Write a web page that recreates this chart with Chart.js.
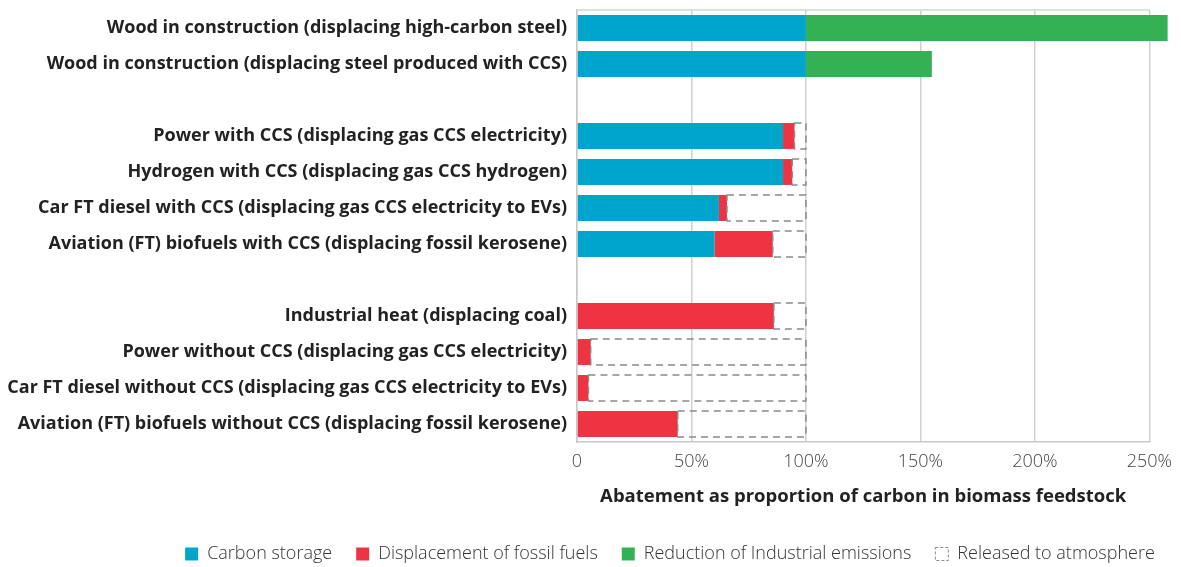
<!DOCTYPE html>
<html lang="en">
<head>
    <meta charset="UTF-8">
    <title>Abatement as proportion of carbon in biomass feedstock</title>
    <script src="https://cdn.jsdelivr.net/npm/chart.js"></script>
</head>
<style>
    body {
    margin: 0;
    background: white;
}

.wrap {
    width: 1181px;
    height: 567px;
    position: relative;
}
</style>
<body>
    <div class="wrap">
        <canvas id="abatementChart"></canvas>
    </div>
    <script>
    // Chart data
    const categories = [
        'Wood in construction (displacing high-carbon steel)',
        'Wood in construction (displacing steel produced with CCS)',
        '',
        'Power with CCS (displacing gas CCS electricity)',
        'Hydrogen with CCS (displacing gas CCS hydrogen)',
        'Car FT diesel with CCS (displacing gas CCS electricity to EVs)',
        'Aviation (FT) biofuels with CCS (displacing fossil kerosene)',
        '',
        'Industrial heat (displacing coal)',
        'Power without CCS (displacing gas CCS electricity)',
        'Car FT diesel without CCS (displacing gas CCS electricity to EVs)',
        'Aviation (FT) biofuels without CCS (displacing fossil kerosene)'
    ];
    const carbonStorage = [100, 100, null, 90, 90, 62, 60, null, 0, 0, 0, 0];
    const displacement  = [0, 0, null, 5, 4, 3.5, 25.5, null, 86, 6, 5, 44];
    const industrial    = [158, 55, null, 0, 0, 0, 0, null, 0, 0, 0, 0];
    const released      = [0, 0, null, 5, 6, 34.5, 14.5, null, 14, 94, 95, 56];
    const xTickLabels = ['0', '50%', '100%', '150%', '200%', '250%'];

    const dashColor = '#8a8a8a';

    // draws the dashed outline for the "released" segments
    const dashedBoxes = {
        id: 'dashedBoxes',
        afterDatasetsDraw(chart) {
            const meta = chart.getDatasetMeta(3);
            const ctx = chart.ctx;
            ctx.save();
            ctx.strokeStyle = dashColor;
            ctx.lineWidth = 1.5;
            ctx.setLineDash([7, 5]);
            meta.data.forEach((bar, i) => {
                if (!released[i]) return;
                const p = bar.getProps(['x', 'y', 'base', 'height'], true);
                ctx.strokeRect(p.base, p.y - p.height / 2, p.x - p.base, p.height);
            });
            ctx.restore();
        }
    };

    // top border of the plot box
    const topLine = {
        id: 'topLine',
        beforeDatasetsDraw(chart) {
            const a = chart.chartArea;
            const ctx = chart.ctx;
            ctx.save();
            ctx.strokeStyle = '#d4d4d4';
            ctx.lineWidth = 1.5;
            ctx.beginPath();
            ctx.moveTo(a.left, a.top);
            ctx.lineTo(a.right, a.top);
            ctx.stroke();
            ctx.restore();
        }
    };

    // legend sits right of centre in the original
    const legendShift = {
        id: 'legendShift',
        afterLayout(chart) {
            const lg = chart.legend;
            lg.left += 94; lg.right += 94;
            lg.top += 6; lg.bottom += 6;
        }
    };

    const barOpts = { barPercentage: 0.8, categoryPercentage: 0.9, clip: false, borderWidth: 0 };

    new Chart(document.getElementById('abatementChart'), {
        type: 'bar',
        data: {
            labels: categories,
            datasets: [
                { label: 'Carbon storage', data: carbonStorage, backgroundColor: '#00a5cb', ...barOpts },
                { label: 'Displacement of fossil fuels', data: displacement, backgroundColor: '#ee3342', ...barOpts },
                { label: 'Reduction of Industrial emissions', data: industrial, backgroundColor: '#35b155', ...barOpts },
                { label: 'Released to atmosphere', data: released, backgroundColor: 'rgba(0,0,0,0)', ...barOpts }
            ]
        },
        options: {
            indexAxis: 'y',
            responsive: true,
            maintainAspectRatio: false,
            animation: false,
            layout: { padding: { top: 10, right: 29, left: 0, bottom: 0 } },
            scales: {
                x: {
                    stacked: true,
                    min: 0,
                    max: 250,
                    ticks: {
                        stepSize: 50,
                        color: '#444',
                        padding: 9,
                        font: { family: 'Open Sans', size: 18, weight: 300 },
                        callback: (v, i) => xTickLabels[i]
                    },
                    grid: { color: '#d0d0d0', lineWidth: 1.5, drawTicks: false },
                    border: { color: '#c8c8c8', width: 1.5 },
                    title: {
                        display: true,
                        text: 'Abatement as proportion of carbon in biomass feedstock',
                        color: '#222',
                        font: { family: 'Open Sans', size: 18.5, weight: 'bold' },
                        padding: { top: 10, bottom: 7 }
                    },
                    afterFit: scale => { scale.height = 73; }
                },
                y: {
                    stacked: true,
                    ticks: {
                        color: '#222',
                        padding: 10,
                        autoSkip: false,
                        font: { family: 'Open Sans', size: 18, weight: 'bold' }
                    },
                    grid: { display: false, drawTicks: false },
                    border: { color: '#c8c8c8', width: 1.5 },
                    afterFit: scale => {
                        scale.width = 577;
                        scale.paddingTop = 0;
                        scale.paddingBottom = 0;
                    }
                }
            },
            plugins: {
                tooltip: { enabled: false },
                legend: {
                    position: 'bottom',
                    labels: {
                        boxWidth: 13,
                        boxHeight: 13,
                        padding: 24,
                        color: '#333',
                        font: { family: 'Open Sans', size: 18, weight: 300 },
                        generateLabels(chart) {
                            const items = Chart.defaults.plugins.legend.labels.generateLabels(chart);
                            const last = items[3];
                            last.fillStyle = 'rgba(0,0,0,0)';
                            last.strokeStyle = dashColor;
                            last.lineWidth = 1;
                            last.lineDash = [3, 2];
                            return items;
                        }
                    }
                }
            }
        },
        plugins: [dashedBoxes, topLine, legendShift]
    });
    </script>
</body>
</html>
